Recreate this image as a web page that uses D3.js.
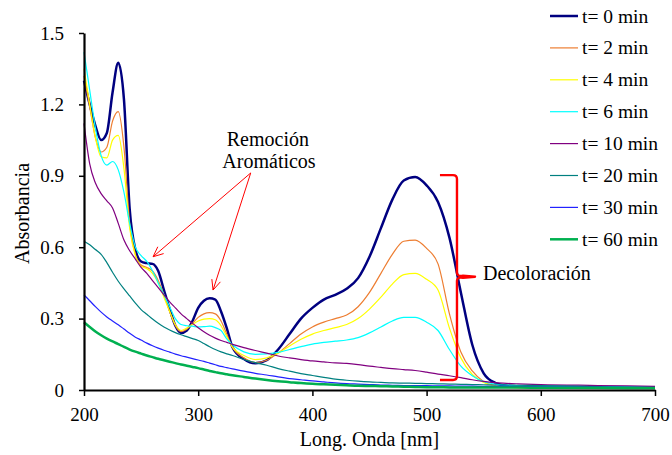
<!DOCTYPE html>
<html lang="es">
<head>
<meta charset="utf-8">
<title>Absorbancia vs longitud de onda</title>
<script src="https://d3js.org/d3.v7.min.js"></script>
<style>
  body { margin: 0; background: #fff; }
</style>
</head>
<body>
<div id="chart"></div>
<script>
// wavelengths shared by every series (nm)
const wavelengths = [200,205,210,215,220,225,230,235,240,245,250,255,260,265,270,275,280,285,290,295,300,305,310,315,320,325,
  330,340,350,360,370,380,390,400,410,420,430,440,450,460,470,480,490,500,510,520,530,540,550,560,570,580,
  600,650,700]

const t0 = [1.30,1.20,1.11,1.05,1.08,1.25,1.375,1.22,0.76,0.59,0.54,0.533,0.53,0.50,0.42,0.34,0.27,0.24,0.25,0.29,0.345,0.375,0.385,0.38,0.33,0.26,
  0.18,0.13,0.112,0.125,0.17,0.235,0.30,0.345,0.38,0.40,0.425,0.47,0.56,0.68,0.80,0.88,0.895,0.86,0.79,0.64,0.41,0.19,0.07,0.03,0.018,0.015,
  0.013,0.012,0.012]
const t2 = [1.32,1.19,1.06,1.00,1.02,1.13,1.17,1.02,0.70,0.57,0.525,0.515,0.50,0.46,0.40,0.33,0.27,0.245,0.255,0.28,0.305,0.32,0.325,0.32,0.29,0.235,
  0.18,0.135,0.115,0.125,0.155,0.195,0.235,0.265,0.285,0.30,0.315,0.35,0.41,0.49,0.57,0.625,0.63,0.595,0.53,0.32,0.16,0.08,0.035,0.018,0.012,0.01,
  0.01,0.01,0.01]
const t4 = [1.35,1.20,1.06,0.98,0.975,1.05,1.07,0.93,0.68,0.565,0.52,0.51,0.49,0.45,0.39,0.33,0.275,0.25,0.26,0.275,0.29,0.298,0.30,0.295,0.27,0.225,
  0.18,0.145,0.128,0.135,0.155,0.185,0.213,0.235,0.25,0.262,0.275,0.30,0.34,0.39,0.445,0.485,0.49,0.465,0.42,0.26,0.135,0.065,0.032,0.016,0.011,0.01,
  0.01,0.01,0.01]
const t6 = [1.42,1.26,1.10,0.985,0.945,0.96,0.925,0.83,0.70,0.60,0.565,0.54,0.50,0.45,0.40,0.35,0.30,0.275,0.27,0.268,0.265,0.266,0.268,0.262,0.25,0.215,
  0.19,0.16,0.15,0.152,0.158,0.17,0.182,0.193,0.20,0.205,0.21,0.22,0.24,0.265,0.29,0.305,0.305,0.285,0.25,0.17,0.10,0.06,0.035,0.025,0.02,0.018,
  0.016,0.015,0.014]
const t10 = [1.12,0.95,0.87,0.825,0.795,0.765,0.70,0.63,0.585,0.55,0.515,0.49,0.46,0.43,0.40,0.37,0.345,0.32,0.30,0.28,0.262,0.245,0.23,0.218,0.208,0.20,
  0.192,0.178,0.166,0.155,0.143,0.135,0.128,0.122,0.118,0.114,0.112,0.107,0.10,0.095,0.09,0.086,0.082,0.075,0.067,0.06,0.052,0.043,0.036,0.031,0.028,0.026,
  0.023,0.019,0.015]
const t20 = [0.625,0.61,0.59,0.57,0.535,0.495,0.457,0.425,0.395,0.365,0.338,0.318,0.298,0.28,0.265,0.252,0.241,0.232,0.224,0.216,0.208,0.195,0.182,0.17,0.16,0.152,
  0.145,0.128,0.115,0.104,0.09,0.079,0.069,0.061,0.053,0.046,0.041,0.037,0.034,0.032,0.03,0.029,0.028,0.027,0.026,0.025,0.024,0.023,0.022,0.021,0.021,0.02,
  0.018,0.014,0.011]
const t30 = [0.40,0.375,0.35,0.327,0.307,0.29,0.274,0.256,0.238,0.222,0.21,0.197,0.186,0.176,0.167,0.159,0.151,0.144,0.138,0.132,0.126,0.12,0.113,0.106,0.099,0.094,
  0.089,0.079,0.07,0.063,0.055,0.048,0.043,0.038,0.034,0.03,0.027,0.025,0.023,0.021,0.02,0.019,0.018,0.018,0.017,0.017,0.016,0.016,0.015,0.015,0.015,0.014,
  0.013,0.011,0.009]
const t60 = [0.285,0.265,0.246,0.23,0.216,0.204,0.193,0.181,0.17,0.161,0.153,0.145,0.138,0.131,0.125,0.119,0.113,0.107,0.102,0.097,0.092,0.086,0.08,0.075,0.07,0.066,
  0.062,0.055,0.048,0.042,0.037,0.033,0.029,0.026,0.024,0.022,0.02,0.018,0.017,0.016,0.015,0.014,0.013,0.012,0.012,0.011,0.011,0.011,0.01,0.01,0.01,0.01,
  0.009,0.008,0.007]

const seriesNames = ['t= 0 min', 't= 2 min', 't= 4 min', 't= 6 min', 't= 10 min', 't= 20 min', 't= 30 min', 't= 60 min']
const seriesValues = [t0, t2, t4, t6, t10, t20, t30, t60]
const seriesColors = ['#000080', '#ED7D31', '#FFFF00', '#00FFFF', '#800080', '#008080', '#2222FF', '#00B050']
const seriesWidths = [2.5, 1.2, 1.2, 1.2, 1.2, 1.2, 1.2, 2.5]

const xTicks = [200, 300, 400, 500, 600, 700]
const yTicks = [0, 0.3, 0.6, 0.9, 1.2, 1.5]

const FONT = '"Liberation Serif", "Times New Roman", serif'

const dimensions = {
  width: 672,
  height: 455,
  margin: { top: 33, right: 17, bottom: 65, left: 84 }
}
dimensions.innerWidth = dimensions.width - dimensions.margin.left - dimensions.margin.right
dimensions.innerHeight = dimensions.height - dimensions.margin.top - dimensions.margin.bottom

const svg = d3.select('#chart')
  .append('svg')
  .attr('width', dimensions.width)
  .attr('height', dimensions.height)
  .style('font-family', FONT)

const chart = svg.append('g')
  .attr('transform', `translate(${dimensions.margin.left}, ${dimensions.margin.top})`)

const xScale = d3.scaleLinear()
  .domain([200, 700])
  .range([0, dimensions.innerWidth])

const yScale = d3.scaleLinear()
  .domain([0, 1.5])
  .range([dimensions.innerHeight, 0])

// series lines
const line = d3.line()
  .x((d, i) => xScale(wavelengths[i]))
  .y(d => yScale(d))
  .curve(d3.curveMonotoneX)

chart.selectAll('path.serie')
  .data(seriesValues)
  .join('path')
  .attr('class', 'serie')
  .attr('fill', 'none')
  .attr('stroke', (d, i) => seriesColors[i])
  .attr('stroke-width', (d, i) => seriesWidths[i])
  .attr('stroke-linejoin', 'round')
  .attr('d', line)

// axes
const xAxis = d3.axisBottom(xScale)
  .tickValues(xTicks)
  .tickSize(6)
  .tickSizeOuter(0)
  .tickPadding(12)

const xAxisGroup = chart.append('g')
  .attr('transform', `translate(0, ${dimensions.innerHeight})`)
  .call(xAxis)
  .attr('font-family', FONT)
  .attr('font-size', 19)
xAxisGroup.select('.domain').attr('stroke-width', 2.2)
xAxisGroup.selectAll('.tick line').attr('stroke-width', 1.5)
xAxisGroup.selectAll('.tick text')
  .style('font-family', FONT)
  .style('font-size', '19px')

const yAxis = d3.axisLeft(yScale)
  .tickValues(yTicks)
  .tickFormat(d => d === 0 ? '0' : d3.format('.1f')(d))
  .tickSize(5)
  .tickSizeOuter(0)
  .tickPadding(15)

const yAxisGroup = chart.append('g')
  .call(yAxis)
  .attr('font-family', FONT)
  .attr('font-size', 19)
yAxisGroup.select('.domain').attr('stroke-width', 2.2)
yAxisGroup.selectAll('.tick line').attr('stroke-width', 1.5)
yAxisGroup.selectAll('.tick text')
  .style('font-family', FONT)
  .style('font-size', '19px')

// axis titles
svg.append('text')
  .attr('x', dimensions.margin.left + dimensions.innerWidth / 2)
  .attr('y', dimensions.height - 9)
  .attr('text-anchor', 'middle')
  .style('font-family', FONT)
  .style('font-size', '20px')
  .text('Long. Onda [nm]')

svg.append('text')
  .attr('transform', `translate(29, ${dimensions.margin.top + dimensions.innerHeight / 2 + 2}) rotate(-90)`)
  .attr('text-anchor', 'middle')
  .style('font-family', FONT)
  .style('font-size', '20px')
  .text('Absorbancia')

// annotations
const red = '#FF0000'
const arrowFrom = [346, 0.912]
const arrowTips = [[260.5, 0.56], [313, 0.42]]

const arrowHead = (x0, y0, x1, y1) => {
  const ang = Math.atan2(y1 - y0, x1 - x0)
  const len = 11, spread = 0.42
  const a = [x1 - len * Math.cos(ang - spread), y1 - len * Math.sin(ang - spread)]
  const b = [x1 - len * Math.cos(ang + spread), y1 - len * Math.sin(ang + spread)]
  return `M${a[0]},${a[1]}L${x1},${y1}L${b[0]},${b[1]}`
}

arrowTips.forEach(tip => {
  const x0 = xScale(arrowFrom[0]), y0 = yScale(arrowFrom[1])
  const x1 = xScale(tip[0]), y1 = yScale(tip[1])
  chart.append('line')
    .attr('x1', x0).attr('y1', y0)
    .attr('x2', x1).attr('y2', y1)
    .attr('stroke', red)
    .attr('stroke-width', 1)
  chart.append('path')
    .attr('d', arrowHead(x0, y0, x1, y1))
    .attr('fill', 'none')
    .attr('stroke', red)
    .attr('stroke-width', 1)
})

const note = chart.append('text')
  .attr('x', xScale(361))
  .attr('y', yScale(1.026))
  .attr('text-anchor', 'middle')
  .style('font-family', FONT)
  .style('font-size', '20px')
note.append('tspan').attr('x', xScale(361)).text('Remoción')
note.append('tspan').attr('x', xScale(362)).attr('dy', 22).text('Aromáticos')

// curly brace "}"
const bx = xScale(526.6), bTop = yScale(0.903), bBot = yScale(0.042)
const bMid = yScale(0.476), bLeft = xScale(511.7), bTip = xScale(542.4)
const r = 4
const bracePath = [
  `M${bLeft},${bTop}`,
  `L${bx - r},${bTop}`,
  `Q${bx},${bTop} ${bx},${bTop + r}`,
  `L${bx},${bMid - 4}`,
  `Q${bx},${bMid} ${bx + 6},${bMid - 1}`,
  `L${bTip},${bMid}`,
  `L${bx + 6},${bMid + 1}`,
  `Q${bx},${bMid} ${bx},${bMid + 4}`,
  `L${bx},${bBot - r}`,
  `Q${bx},${bBot} ${bx - r},${bBot}`,
  `L${bLeft},${bBot}`
].join(' ')

chart.append('path')
  .attr('d', bracePath)
  .attr('fill', 'none')
  .attr('stroke', red)
  .attr('stroke-width', 2.4)
  .attr('stroke-linejoin', 'round')

chart.append('text')
  .attr('x', xScale(549.4))
  .attr('y', yScale(0.462))
  .style('font-family', FONT)
  .style('font-size', '20px')
  .text('Decoloración')

// legend
const legend = svg.append('g')
  .attr('transform', 'translate(550, 16)')

const legendRows = legend.selectAll('g')
  .data(seriesNames)
  .join('g')
  .attr('transform', (d, i) => `translate(0, ${i * 31.9})`)

legendRows.append('line')
  .attr('x1', 0).attr('x2', 28)
  .attr('stroke', (d, i) => seriesColors[i])
  .attr('stroke-width', (d, i) => seriesWidths[i])

legendRows.append('text')
  .attr('x', 32)
  .attr('y', 6.5)
  .style('font-family', FONT)
  .style('font-size', '19.5px')
  .text(d => d)
</script>
</body>
</html>
